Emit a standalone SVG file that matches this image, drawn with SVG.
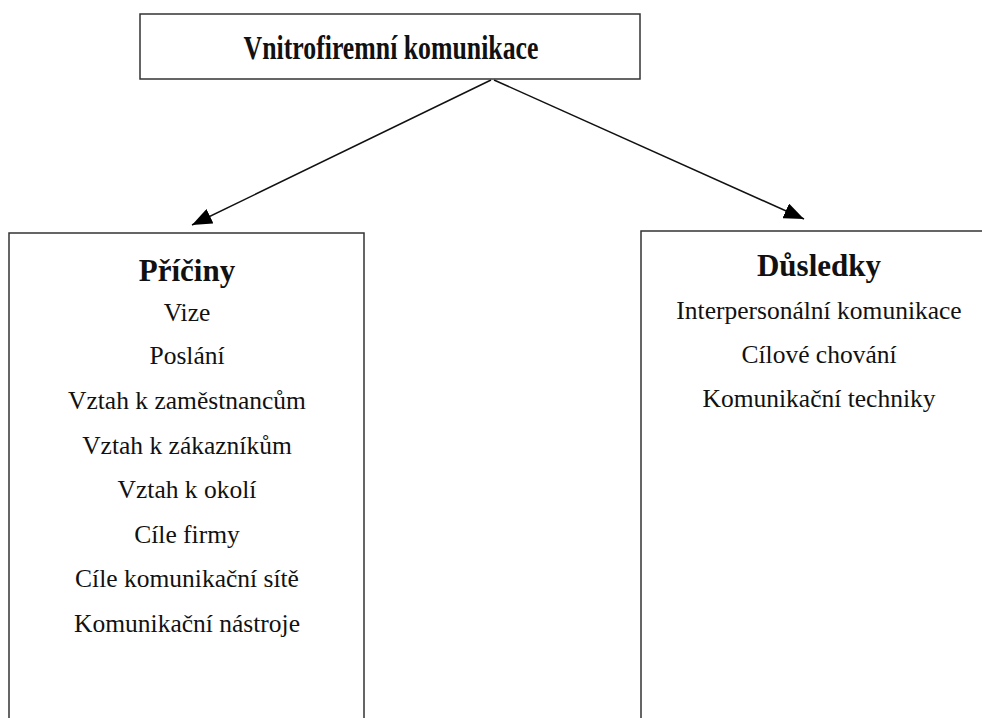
<svg xmlns="http://www.w3.org/2000/svg" width="982" height="718" viewBox="0 0 982 718">
<style>
.box{fill:#fff;stroke:#333;stroke-width:1.5}
.t{font-family:"Liberation Serif","Times New Roman",serif;fill:#111;text-anchor:middle}
.h{font-weight:bold;font-size:31px}
.i{font-size:25.5px}
.edge{stroke:#111;stroke-width:1.5;fill:none;marker-end:url(#ah)}
</style>
<defs>
<marker id="ah" viewBox="0 0 20 16" refX="20" refY="8" markerWidth="20" markerHeight="16" markerUnits="userSpaceOnUse" orient="auto">
<path d="M0,0 L20,8 L0,16 z" fill="#000"/>
</marker>
</defs>
<rect width="982" height="718" fill="#fff"/>
<g id="connectors">
<line class="edge" x1="491" y1="80" x2="192" y2="225"/>
<line class="edge" x1="494" y1="80" x2="804" y2="219"/>
</g>
<g id="top">
<rect class="box" x="140" y="14" width="500" height="65"/>
<text class="t" transform="translate(391,59) scale(0.86,1.1)" x="0" y="0" style="font-weight:bold;font-size:30px">Vnitrofiremní komunikace</text>
</g>
<g id="priciny">
<path class="box" d="M9,718 V233 H364 V718"/>
<text class="t h" x="187" y="281">Příčiny</text>
<text class="t i" x="187" y="321">Vize</text>
<text class="t i" x="187" y="364">Poslání</text>
<text class="t i" x="187" y="409">Vztah k zaměstnancům</text>
<text class="t i" x="187" y="454">Vztah k zákazníkům</text>
<text class="t i" x="187" y="498">Vztah k okolí</text>
<text class="t i" x="187" y="543">Cíle firmy</text>
<text class="t i" x="187" y="587">Cíle komunikační sítě</text>
<text class="t i" x="187" y="632">Komunikační nástroje</text>
</g>
<g id="dusledky">
<path class="box" d="M641,718 V231 H982"/>
<text class="t h" x="819" y="276">Důsledky</text>
<text class="t i" x="819" y="319">Interpersonální komunikace</text>
<text class="t i" x="819" y="363">Cílové chování</text>
<text class="t i" x="819" y="407">Komunikační techniky</text>
</g>
</svg>
